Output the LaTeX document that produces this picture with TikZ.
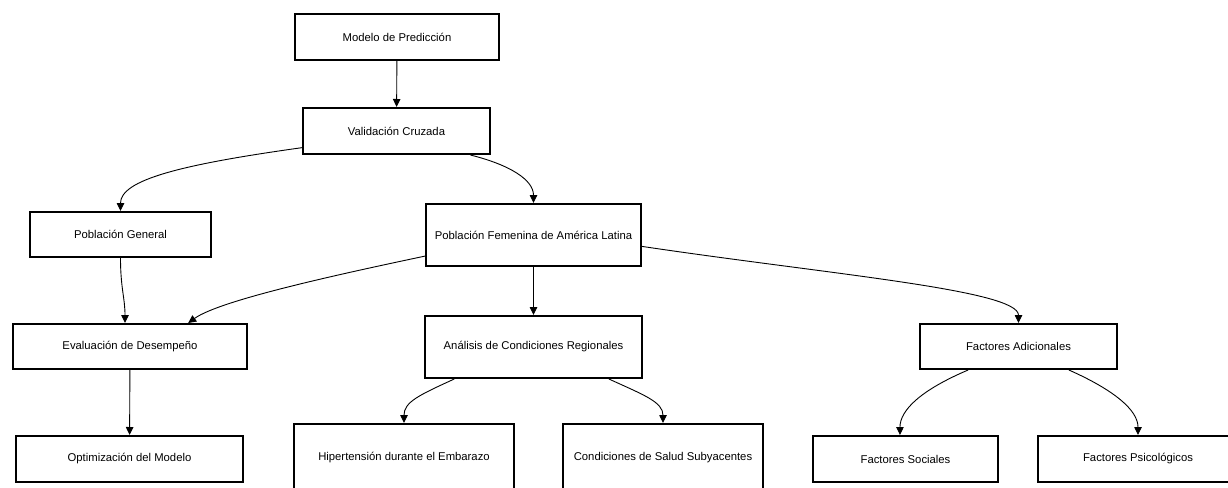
\documentclass[tikz,border=0pt]{standalone}
\usepackage{fontspec}
\setmainfont{Liberation Sans}
\usetikzlibrary{arrows.meta}

\begin{document}
\begin{tikzpicture}[x=1pt,y=-1pt,
	caja/.style={draw, line width=2pt, inner sep=0pt, align=center, font=\fontsize{11.3}{13.6}\selectfont},
	flecha/.style={line width=0.9pt, -{Triangle[length=8pt,width=7.5pt]}}]
				\useasboundingbox (0,0) rectangle (1228,487);
				\node[caja, minimum width=204, minimum height=46] (modelo) at (397,37) {Modelo de Predicción};
				\node[caja, minimum width=187, minimum height=46] (validacion) at (396.5,131) {Validación Cruzada};
				\node[caja, minimum width=181, minimum height=45] (general) at (120.5,234.5) {Población General};
				\node[caja, minimum width=215, minimum height=62] (femenina) at (533.5,235) {Población Femenina de América Latina};
				\node[caja, minimum width=234, minimum height=45] (evaluacion) at (130,346.5) {Evaluación de Desempeño};
				\node[caja, minimum width=217, minimum height=62] (analisis) at (533.5,347) {Análisis de Condiciones Regionales};
				\node[caja, minimum width=197, minimum height=45] (adicionales) at (1018.5,346.5) {Factores Adicionales};
				\node[caja, minimum width=227, minimum height=46] (optimizacion) at (129.5,459) {Optimización del Modelo};
				\node[caja, minimum width=220, minimum height=68] (hipertension) at (404,458) {Hipertensión durante el Embarazo};
				\node[caja, minimum width=200, minimum height=68] (condiciones) at (663,458) {Condiciones de Salud Subyacentes};
				\node[caja, minimum width=185, minimum height=46] (sociales) at (905.5,459) {Factores Sociales};
				\node[caja, minimum width=200, minimum height=46] (psicologicos) at (1138,459) {Factores Psicológicos};
				\draw[flecha] (modelo) -- (validacion);
				\draw[flecha] (validacion.190) .. controls +(-122,17) and +(0,-31) .. (general.north);
				\draw[flecha] (validacion.342) .. controls +(40,10) and +(0,-23) .. (femenina.north);
				\draw[flecha] (general.south) .. controls +(0,30) and +(0,-25) .. (evaluacion.102);
				\draw[flecha] (femenina.191) .. controls +(-85,18) and +(32,-23) .. (evaluacion.22);
				\draw[flecha] (femenina) -- (analisis);
				\draw[flecha] (femenina.-6) .. controls +(188,28) and +(0,-33) .. (adicionales.north);
				\draw[flecha] (evaluacion) -- (optimizacion);
				\draw[flecha] (analisis.202) .. controls +(-35,16) and +(0,-21) .. (hipertension.north);
				\draw[flecha] (analisis.337) .. controls +(35,16) and +(0,-21) .. (condiciones.north);
				\draw[flecha] (adicionales.205) .. controls +(-47,20) and +(0,-25) .. (sociales.103);
				\draw[flecha] (adicionales.335) .. controls +(45,20) and +(0,-25) .. (psicologicos.north);
				\end{tikzpicture}
\end{document}
